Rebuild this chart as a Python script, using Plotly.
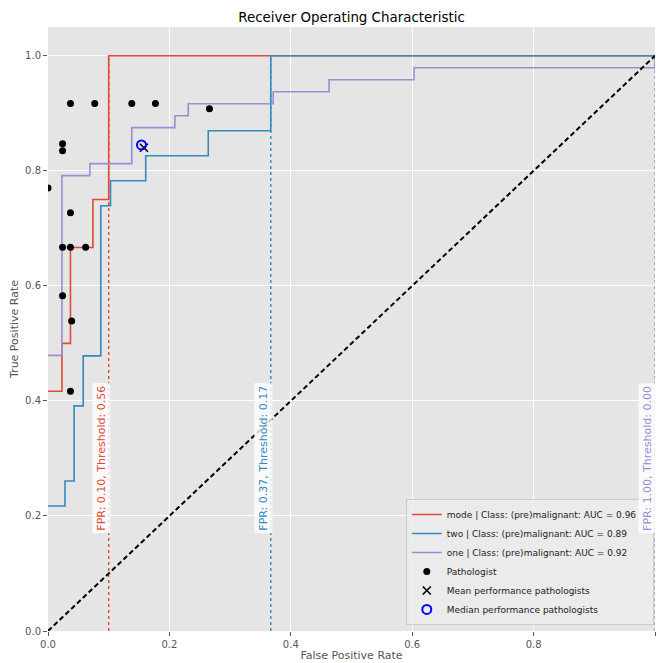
import plotly.graph_objects as go

# ---------------- data ----------------
mode_fpr = [0.0, 0.023, 0.037, 0.074, 0.10, 1.0]
mode_tpr = [5/12, 6/12, 8/12, 9/12, 1.0, 1.0]

two_fpr = [0.0, 0.028, 0.043, 0.058, 0.087, 0.103, 0.161, 0.264, 0.367, 1.0]
two_tpr = [5/23, 6/23, 9/23, 11/23, 17/23, 18/23, 19/23, 20/23, 1.0, 1.0]

one_fpr = [0.0, 0.023, 0.069, 0.138, 0.209, 0.231, 0.371, 0.463, 0.603, 1.0]
one_tpr = [23/48, 38/48, 39/48, 42/48, 43/48, 44/48, 45/48, 46/48, 47/48, 1.0]

curve_names = [
    "mode | Class: (pre)malignant: AUC = 0.96",
    "two | Class: (pre)malignant: AUC = 0.89",
    "one | Class: (pre)malignant: AUC = 0.92",
]
curve_colors = ["#E24A33", "#348ABD", "#988ED5"]

thr_fpr = [0.10, 0.367, 1.0]
thr_tpr = [1.0, 1.0, 1.0]
thr_value = [0.56, 0.17, 0.00]

path_fpr = [0.0, 0.024, 0.024, 0.037, 0.077, 0.138, 0.177, 0.266, 0.037,
            0.024, 0.037, 0.062, 0.024, 0.039, 0.037]
path_tpr = [0.770, 0.847, 0.835, 0.917, 0.917, 0.917, 0.917, 0.908, 0.727,
            0.667, 0.667, 0.667, 0.583, 0.539, 0.417]

mean_fpr, mean_tpr = [0.158], [0.840]
median_fpr, median_tpr = [0.154], [0.845]

diag = [0.0, 1.0]

# ---------------- figure ----------------
FONT = "DejaVu Sans"
PAD = "\u00a0" * 4  # keeps the legend box wide enough for the longest entry
fig = go.Figure()

curves = [(mode_fpr, mode_tpr), (two_fpr, two_tpr), (one_fpr, one_tpr)]
for (xs, ys), name, col in zip(curves, curve_names, curve_colors):
    fig.add_trace(go.Scatter(x=xs, y=ys, mode="lines", name=name + PAD,
                             line=dict(color=col, width=1.6, shape="hv")))

# dotted threshold lines
for fx, ty, col in zip(thr_fpr, thr_tpr, curve_colors):
    fig.add_trace(go.Scatter(x=[fx, fx], y=[0, ty], mode="lines", showlegend=False,
                             line=dict(color=col, width=1.4, dash="dot"),
                             hoverinfo="skip"))

# chance diagonal
fig.add_trace(go.Scatter(x=diag, y=diag, mode="lines", showlegend=False,
                         line=dict(color="black", width=2, dash="5px,3px")))

fig.add_trace(go.Scatter(x=path_fpr, y=path_tpr, mode="markers", name="Pathologist",
                         marker=dict(color="black", size=7)))
fig.add_trace(go.Scatter(x=mean_fpr, y=mean_tpr, mode="markers",
                         name="Mean performance pathologists",
                         marker=dict(symbol="x-thin", size=8, color="black",
                                     line=dict(color="black", width=1.6))))
fig.add_trace(go.Scatter(x=median_fpr, y=median_tpr, mode="markers",
                         name="Median performance pathologists",
                         marker=dict(symbol="circle-open", size=9, color="blue",
                                     line=dict(color="blue", width=2))))

for fx, tv, col in zip(thr_fpr, thr_value, curve_colors):
    fig.add_annotation(x=fx, y=0.3, xref="x", yref="y",
                       text=f"FPR: {fx:.2f}, Threshold: {tv:.2f}",
                       textangle=-90, showarrow=False,
                       xanchor="right", yanchor="middle", xshift=2,
                       font=dict(family=FONT, size=11, color=col),
                       bgcolor="rgba(255,255,255,0.8)", borderpad=2)

axis_common = dict(showgrid=True, gridcolor="white", gridwidth=1, zeroline=False,
                   ticks="outside", ticklen=4, tickwidth=1, tickcolor="#555555",
                   tickfont=dict(family=FONT, size=10, color="#555555"),
                   tickformat=".1f", dtick=0.2, tick0=0, showline=False,
                   automargin=False)

fig.update_layout(
    width=659, height=663,
    margin=dict(l=48, r=4, t=27, b=32, autoexpand=False),
    paper_bgcolor="white", plot_bgcolor="#E5E5E5",
    font=dict(family=FONT, color="#222222"),
    title=dict(text="Receiver Operating Characteristic", x=0.5, xref="paper",
               xanchor="center", y=1 - 17/663, yref="container", yanchor="middle",
               font=dict(family=FONT, size=13.4, color="black")),
    xaxis=dict(range=[0, 1.0],
               title=dict(text="False Positive Rate", standoff=2,
                          font=dict(family=FONT, size=11, color="#555555")),
               **axis_common),
    yaxis=dict(range=[0, 1.05],
               title=dict(text="True Positive Rate", standoff=4,
                          font=dict(family=FONT, size=11, color="#555555")),
               **axis_common),
    legend=dict(x=0.998, xanchor="right", y=0.01, yanchor="bottom",
                bgcolor="rgba(236,236,236,0.85)", bordercolor="#cccccc", borderwidth=1,
                font=dict(family=FONT, size=9, color="#222222"),
                itemwidth=30, tracegroupgap=0),
    showlegend=True,
)

fig.write_html(
    "out.html",
    config={"displayModeBar": False},
    post_script=(
        "document.body.style.margin='0';document.body.style.padding='0';"
        "document.body.style.overflow='hidden';"
    ),
)
